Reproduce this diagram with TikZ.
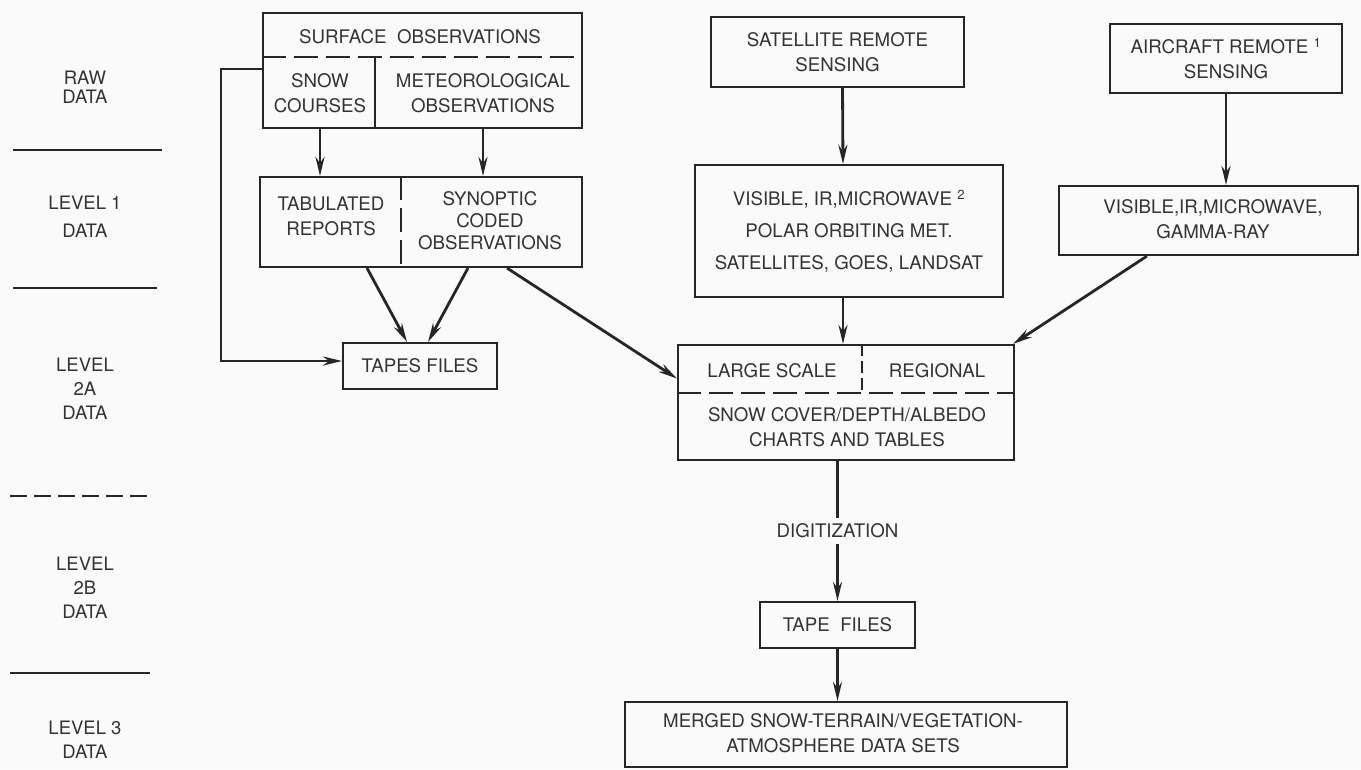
\documentclass[tikz,border=0pt]{standalone}
\usepackage{fontspec}
\setmainfont{TeX Gyre Heros}
\usetikzlibrary{positioning, arrows.meta}
\tikzset{box/.style={draw=black!85, rectangle, inner sep=0pt}}
\tikzset{flow/.style={draw=black!85, -{Stealth[length=19pt,width=9pt]}, line width=2.8pt}}
\tikzset{split/.style={draw=black!85, dash pattern=on 24pt off 8pt}}
\tikzset{lvl/.style={font=\fontsize{18.5}{24}\selectfont}}

\begin{document}
\begin{tikzpicture}[x=1pt, y=-1pt, line width=2.1pt, every node/.style={align=center, text=black!80, font=\fontsize{18.7}{25}\selectfont}]
  \useasboundingbox[fill=black!2] (0,0) rectangle (1361,769);

  % level column on the left
  \node[lvl] (raw) at (85,87) {RAW\\[-5pt]DATA};
  \node[lvl] (lone) at (85,217) {LEVEL 1\\[4pt]DATA};
  \node[lvl] (ltwoa) at (85,389) {LEVEL\\2A\\DATA};
  \node[lvl] (ltwob) at (85,588) {LEVEL\\2B\\DATA};
  \node[lvl] (lthree) at (85,740) {LEVEL 3\\DATA};
  \draw[black!85] (13,150) -- (162,150);
  \draw[black!85] (13,288) -- (157,288);
  \draw[black!85, dash pattern=on 17pt off 7pt] (10,496) -- (150,496);
  \draw[black!85] (10,673) -- (150,673);

  % surface observations
  \node[box, minimum width=319, minimum height=115] (surf) at (422.5,70.5) {};
  \node (surftxt) at (420,37) {SURFACE\ \ OBSERVATIONS};
  \node (snow) at (320,93) {SNOW\\COURSES};
  \node (meteo) at (483,93) {METEOROLOGICAL\\OBSERVATIONS};
  \draw[split] (surf.west |- 0,57) -- (surf.east |- 0,57);
  \draw[black!85] (375,57) -- (surf.south -| 375,0);

  \node[box, minimum width=322, minimum height=90] (tab) at (421,222) {};
  \node (tabrep) at (331,216) {TABULATED\\REPORTS};
  \node[font=\fontsize{18.7}{22}\selectfont] (synop) at (490,221) {SYNOPTIC\\CODED\\OBSERVATIONS};
  \draw[split] (tab.north -| 401,0) -- (tab.south -| 401,0);

  \node[box, minimum width=154, minimum height=46] (tapes) at (420,366) {TAPES FILES};

  % satellite branch
  \node[box, minimum width=253, minimum height=70] (sat) at (837.5,52) {SATELLITE REMOTE\\SENSING};
  \node[box, minimum width=308, minimum height=132, font=\fontsize{18.7}{32}\selectfont] (satvis) at (849,231)
    {VISIBLE, IR,MICROWAVE \textsuperscript{2}\\POLAR ORBITING MET.\\SATELLITES, GOES, LANDSAT};

  % aircraft branch
  \node[box, minimum width=232, minimum height=69] (air) at (1226,58.5) {AIRCRAFT REMOTE \textsuperscript{1}\\SENSING};
  \node[box, minimum width=299, minimum height=69] (airvis) at (1208.5,220.5) {};
  \node (airtxt) at (1213,219) {VISIBLE,IR,MICROWAVE,\\GAMMA-RAY};

  % charts and tables
  \node[box, minimum width=336, minimum height=115] (large) at (846,402.5) {};
  \node (lscale) at (772,371) {LARGE SCALE};
  \node (regional) at (937,371) {REGIONAL};
  \node (charts) at (847,427) {SNOW COVER/DEPTH/ALBEDO\\CHARTS AND TABLES};
  \draw[split] (large.west |- 0,393) -- (large.east |- 0,393);
  \draw[split, dash pattern=on 12pt off 5pt] (large.north -| 862,0) -- (862,393);

  \node[box, minimum width=155, minimum height=46] (tapefiles) at (837.5,625) {TAPE\ \ FILES};
  \node[box, minimum width=442, minimum height=65] (merged) at (846,734.5) {};
  \node (mergedtxt) at (843,733) {MERGED SNOW-TERRAIN/VEGETATION-\\ATMOSPHERE DATA SETS};

  % connectors
  \draw[flow] (surf.south -| snow) -- (tab.north -| snow);
  \draw[flow] (surf.south -| meteo) -- (tab.north -| meteo);
  \draw[flow] ([xshift=-54pt]tab.south) -- ([xshift=-13pt]tapes.north);
  \draw[flow] ([xshift=47pt]tab.south) -- ([xshift=8pt]tapes.north);
  \draw[flow] ([xshift=86pt]tab.south) -- ([yshift=24pt]large.west);
  \draw[flow] ([yshift=1.5pt]surf.west) -- ++(-41,0) |- ([yshift=5pt]tapes.west);
  \draw[flow] ([xshift=5pt]sat.south) -- ([xshift=-6pt]satvis.north);
  \draw[flow] ([xshift=-6pt]satvis.south) -- ([xshift=-3pt]large.north);
  \draw[flow] (air.south) -- (air.south |- airvis.north);
  \draw[flow] ([xshift=-61.5pt]airvis.south) -- ([xshift=-2pt]large.north east);
  \draw[flow] (large.south -| tapefiles.north) -- node[fill=black!2, inner sep=6pt] (digit) {DIGITIZATION} (tapefiles.north);
  \draw[flow] (tapefiles.south) -- (merged.north -| tapefiles.south);
\end{tikzpicture}
\end{document}
